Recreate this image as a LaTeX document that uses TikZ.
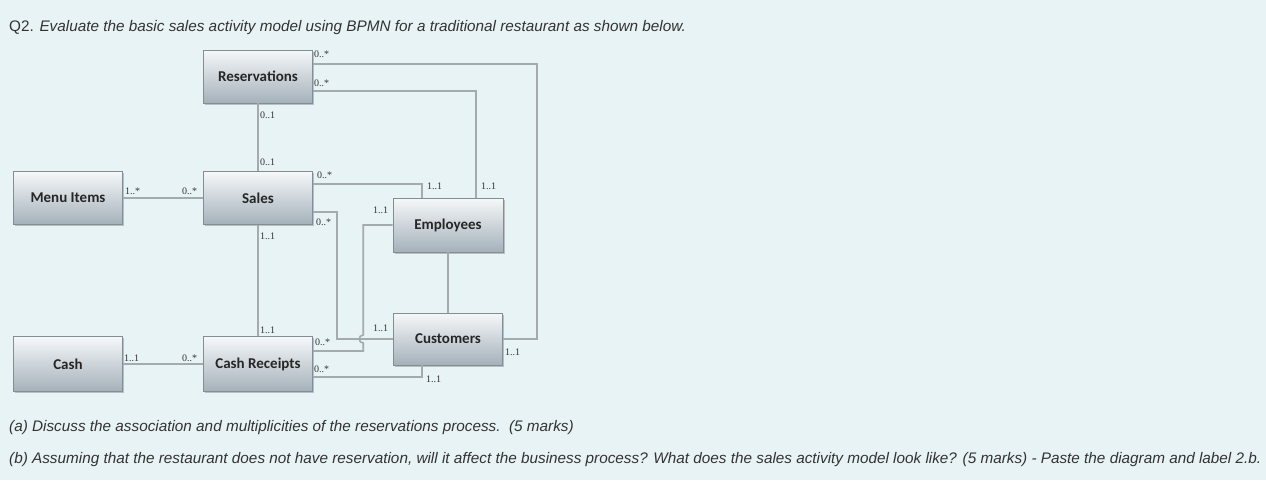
\documentclass[tikz,border=0pt]{standalone}
\usepackage{fontspec}
\setmainfont{Liberation Sans}
\newfontfamily\boxfont{Carlito}
\newfontfamily\multfont{Liberation Serif}
\usetikzlibrary{shadows,calc}
\definecolor{bg}{RGB}{232,243,246}
\definecolor{boxtop}{RGB}{246,248,249}
\definecolor{boxbot}{RGB}{164,177,186}
\definecolor{boxline}{RGB}{130,142,150}
\definecolor{conn}{RGB}{164,170,174}
\definecolor{txt}{RGB}{51,51,51}
\tikzset{
  entity/.style={draw=boxline, line width=0.6pt, top color=boxtop, bottom color=boxbot,
    minimum width=109pt, minimum height=53pt, inner sep=0pt,
    font=\boxfont\bfseries\fontsize{15}{17}\selectfont, text=black!85,
    drop shadow={shadow xshift=1.5pt, shadow yshift=-1.5pt, fill=black!45, opacity=0.5}},
  link/.style={draw=conn, line width=1.6pt},
  mult/.style={anchor=west, inner sep=0pt, font=\multfont\fontsize{10}{11}\selectfont, text=txt},
  qtext/.style={anchor=west, inner sep=0pt, font=\fontsize{15.3}{18}\selectfont, text=txt},
}
\begin{document}
\begin{tikzpicture}[x=1pt,y=-1pt]
\fill[bg] (0,0) rectangle (1266,480);
\useasboundingbox (0,0) rectangle (1266,480);

% entities
\node[entity] (res)   at (258,76.5) {Reservations};
\node[entity] (sales) at (258,198) {Sales};
\node[entity] (menu)  at (68,198) {Menu Items};
\node[entity, minimum height=55pt] (cash)  at (68,364) {Cash};
\node[entity, minimum height=55pt] (cr)    at (258,364) {Cash Receipts};
\node[entity, minimum width=110pt, minimum height=54pt] (emp)   at (448,225) {Employees};
\node[entity, minimum height=52pt] (cust)  at (448,339) {Customers};

% connectors
\draw[link] (menu.east) -- (sales.west);
\draw[link] (cash.east) -- (cr.west);
\draw[link] (res.south) -- (res.south |- sales.north);
\draw[link] (sales.south) -- (sales.south |- cr.north);
\draw[link] (emp.south) -- (emp.south |- cust.north);
\draw[link] ([yshift=12.5pt]res.east) -| ([xshift=34pt]cust.east) -- (cust.east);
\draw[link] ([yshift=-14.5pt]res.east) -| ([xshift=28pt]emp.north);
\draw[link] ([yshift=14pt]sales.east) -| ([xshift=-26pt]emp.north);
\draw[link] ([yshift=-14pt]sales.east) -| ([xshift=-56pt]cust.west) -- (cust.west);
\coordinate (hop) at ([xshift=-30pt]cust.west);
\draw[link] ([yshift=13pt]cr.east) -| ([yshift=-4pt]hop)
   arc[start angle=270, end angle=90, radius=4pt] |- (emp.west);
\draw[link] ([yshift=-13pt]cr.east) -| ([xshift=-26pt]cust.south);

% multiplicities
\node[mult] (m1)  at (314,54)  {0..*};
\node[mult] (m2)  at (314,83)  {0..*};
\node[mult] (m3)  at (260,115) {0..1};
\node[mult] (m4)  at (260,162) {0..1};
\node[mult] (m5)  at (317,175) {0..*};
\node[mult] (m6)  at (427,186) {1..1};
\node[mult] (m7)  at (481,186) {1..1};
\node[mult] (m8)  at (316,222) {0..*};
\node[mult] (m9)  at (373,210) {1..1};
\node[mult] (m10) at (260,236) {1..1};
\node[mult] (m11) at (260,330) {1..1};
\node[mult] (m12) at (373,328) {1..1};
\node[mult] (m13) at (315,342) {0..*};
\node[mult] (m14) at (314,369) {0..*};
\node[mult] (m15) at (505,352) {1..1};
\node[mult] (m16) at (426,379) {1..1};
\node[mult] (m17) at (125,191) {1..*};
\node[mult] (m18) at (182,191) {0..*};
\node[mult] (m19) at (124,358) {1..1};
\node[mult] (m20) at (182,358) {0..*};

% question texts
\node[qtext] (q2) at (9,28) {Q2. \textit{Evaluate the basic sales activity model using BPMN for a traditional restaurant as shown below.}};
\node[qtext] (qa) at (9,428) {\textit{(a) Discuss the association and multiplicities of the reservations process.\ \ (5 marks)}};
\node[qtext] (qb) at (9,460) {\textit{(b) Assuming that the restaurant does not have reservation, will it affect the business process? What does the sales activity model look like? (5 marks) - Paste the diagram and label 2.b.}};
\end{tikzpicture}
\end{document}
